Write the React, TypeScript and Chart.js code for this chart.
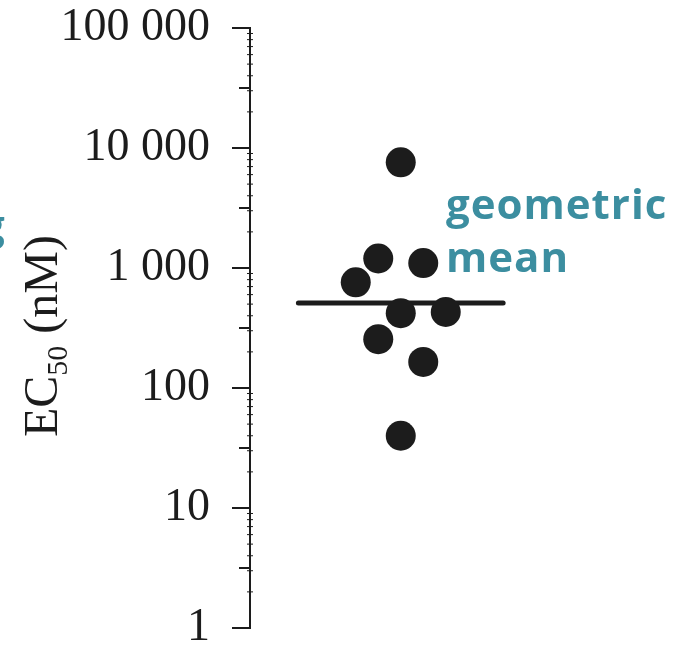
import React, { useEffect, useRef } from 'react';
import { Chart, registerables } from 'chart.js';

Chart.register(...registerables);

// ---- data ----
const ec50Values = [7600, 1200, 1100, 760, 420, 430, 255, 165, 40];
const jitterOffsets = [0, -1, 1, -2, 0, 2, -1, 1, 0];
const geometricMean = 510;
const meanLineExtent = [-4.55, 4.55];
const yTickValues = [1, 10, 100, 1000, 10000, 100000];
const yTitleMain = 'EC';
const yTitleSub = '50';
const yTitleRest = ' (nM)';
const annotationLines = ['geometric', 'mean'];

const INK = '#1c1c1c';
const TEAL = '#3c8ea0';

const fmt = (v: number) => String(v).replace(/\B(?=(\d{3})+(?!\d))/g, ' ');

const decorPlugin = {
  id: 'decor',
  afterDraw(chart: any) {
    const { ctx, chartArea } = chart;
    const y = chart.scales.y;
    const left = chartArea.left;
    ctx.save();
    ctx.strokeStyle = INK;
    ctx.lineCap = 'butt';
    // major ticks at decades
    for (let e = 0; e <= 5; e++) {
      const py = y.getPixelForValue(Math.pow(10, e));
      ctx.lineWidth = 2;
      ctx.beginPath();
      ctx.moveTo(left - 18, py);
      ctx.lineTo(left + 1, py);
      ctx.stroke();
      if (e < 5) {
        // half-decade ticks
        const ph = y.getPixelForValue(Math.pow(10, e + 0.5));
        ctx.beginPath();
        ctx.moveTo(left - 11, ph);
        ctx.lineTo(left + 1, ph);
        ctx.stroke();
        // small minor ticks
        ctx.lineWidth = 1;
        for (let m = 2; m <= 9; m++) {
          const pm = y.getPixelForValue(m * Math.pow(10, e));
          ctx.beginPath();
          ctx.moveTo(left - 3, pm);
          ctx.lineTo(left + 3, pm);
          ctx.stroke();
        }
      }
    }
    // y-axis title with subscript
    const mainFont = '48px "Liberation Serif", serif';
    const subFont = '30px "Liberation Serif", serif';
    ctx.font = mainFont;
    const wMain = ctx.measureText(yTitleMain).width;
    const wRest = ctx.measureText(yTitleRest).width;
    ctx.font = subFont;
    const wSub = ctx.measureText(yTitleSub).width;
    const total = wMain + wSub + wRest;
    ctx.translate(57, 336);
    ctx.rotate(-Math.PI / 2);
    ctx.fillStyle = INK;
    ctx.textBaseline = 'alphabetic';
    ctx.textAlign = 'left';
    let x0 = -total / 2;
    ctx.font = mainFont;
    ctx.fillText(yTitleMain, x0, 0);
    x0 += wMain;
    ctx.font = subFont;
    ctx.fillText(yTitleSub, x0, 10);
    x0 += wSub;
    ctx.font = mainFont;
    ctx.fillText(yTitleRest, x0, 0);
    ctx.restore();

    // annotation text
    ctx.save();
    ctx.fillStyle = TEAL;
    ctx.font = '700 42px "Open Sans", sans-serif';
    ctx.textBaseline = 'alphabetic';
    ctx.textAlign = 'left';
    // cut-off teal glyph at the left edge
    ctx.fillText('g', -19, 240);
    try { (ctx as any).letterSpacing = '1px'; } catch (e) {}
    ctx.fillText(annotationLines[0], 446, 219);
    ctx.fillText(annotationLines[1], 446, 272);
    ctx.restore();
  },
};

export default function App() {
  const canvasRef = useRef<HTMLCanvasElement | null>(null);

  useEffect(() => {
    if (!canvasRef.current) return;
    const chart = new Chart(canvasRef.current, {
      type: 'scatter',
      data: {
        datasets: [
          {
            type: 'scatter',
            data: ec50Values.map((v, i) => ({ x: jitterOffsets[i], y: v })),
            backgroundColor: INK,
            borderWidth: 0,
            pointRadius: 15,
            pointHoverRadius: 15,
            order: 0,
          } as any,
          {
            type: 'line',
            data: meanLineExtent.map((x) => ({ x, y: geometricMean })),
            borderColor: INK,
            borderWidth: 5,
            borderCapStyle: 'round',
            pointRadius: 0,
            order: 1,
          } as any,
        ],
      },
      options: {
        responsive: false,
        animation: false,
        layout: { autoPadding: false, padding: { top: 28, bottom: 23, left: 0, right: 0 } },
        plugins: { legend: { display: false }, tooltip: { enabled: false } },
        scales: {
          x: { type: 'linear', min: -6.7, max: 12.1, display: false },
          y: {
            type: 'logarithmic',
            min: 1,
            max: 100000,
            afterBuildTicks: (scale: any) => {
              scale.ticks = yTickValues.map((v) => ({ value: v }));
            },
            afterFit: (scale: any) => {
              scale.width = 250;
            },
            grid: {
              display: true,
              drawOnChartArea: false,
              drawTicks: true,
              tickLength: 40,
              tickColor: 'rgba(0,0,0,0)',
              color: 'rgba(0,0,0,0)',
            },
            border: { display: true, color: INK, width: 2 },
            ticks: {
              padding: 0,
              color: INK,
              font: { family: '"Liberation Serif", serif', size: 46, lineHeight: 1 },
              callback: (v: any) => fmt(Number(v)),
              autoSkip: false,
            },
          },
        },
      },
      plugins: [decorPlugin],
    });
    return () => chart.destroy();
  }, []);

  return (
    <div style={{ position: 'fixed', left: 0, top: 0, width: 673, height: 651, background: '#fff' }}>
      <canvas ref={canvasRef} width={673} height={651} style={{ width: 673, height: 651, display: 'block' }} />
    </div>
  );
}
